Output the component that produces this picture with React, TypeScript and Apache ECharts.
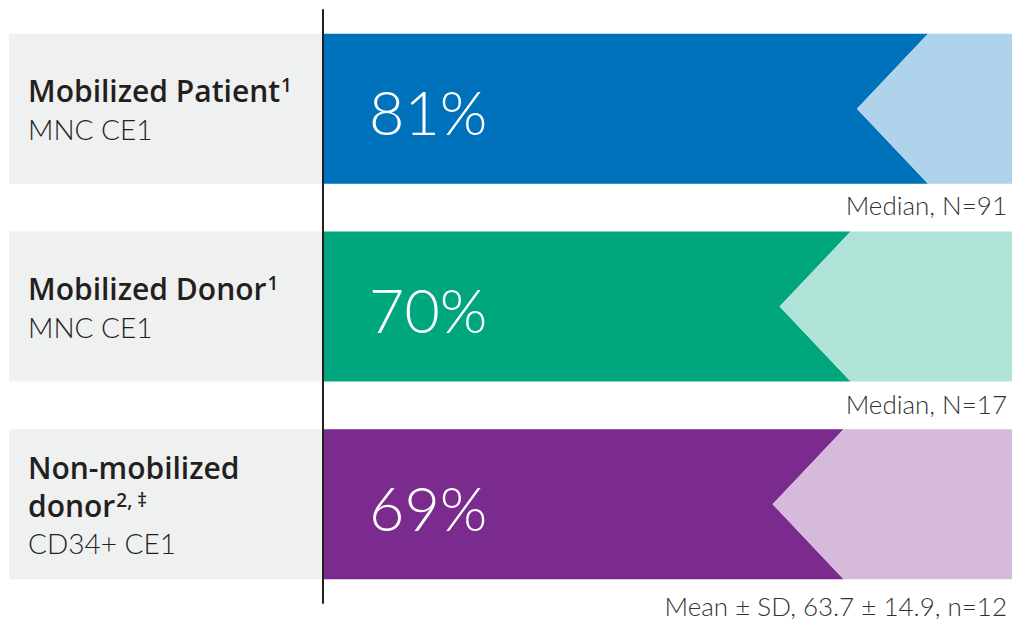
import React, { useEffect, useRef } from "react";
import * as echarts from "echarts";

const categories = ["Mobilized Patient", "Mobilized Donor", "Non-mobilized donor"];
const values = [81, 70, 69];
const titleLines = [["Mobilized Patient"], ["Mobilized Donor"], ["Non-mobilized", "donor"]];
const footnoteMarks = ["1", "1", "2, ‡"];
const subtitles = ["MNC CE1", "MNC CE1", "CD34+ CE1"];
const notes = ["Median, N=91", "Median, N=17", "Mean ± SD, 63.7 ± 14.9, n=12"];
const darkColors = ["#0072bc", "#00a77e", "#7b2a8d"];
const lightColors = ["#afd3ea", "#b0e3d7", "#d5badc"];

const X_MAX = 98;
const FONT = "Lato, 'Open Sans', sans-serif";
const BOLD_FONT = "'Open Sans', Lato, sans-serif";
const noteOffsets = [21, 22, 27];

export default function App() {
  const ref = useRef<HTMLDivElement>(null);
  useEffect(() => {
    if (!ref.current) return;
    const chart = echarts.init(ref.current, undefined, { renderer: "svg" });
    const option: any = {
      animation: false,
      grid: { left: 323, right: 0, top: 10, height: 593 },
      xAxis: { type: "value", min: 0, max: X_MAX, show: false },
      yAxis: {
        type: "category",
        data: categories,
        inverse: true,
        z: 10,
        axisLine: { show: true, lineStyle: { color: "#231f20", width: 2 } },
        axisTick: { show: false },
        axisLabel: { show: false },
        splitLine: { show: false },
      },
      series: [
        {
          type: "custom",
          data: values.map((v, i) => [v, i]),
          renderItem: (params: any, api: any) => {
            const idx = api.value(1);
            const v = api.value(0);
            const [xm, cy] = api.coord([v, idx]);
            const x0 = api.coord([0, idx])[0];
            const xEnd = api.coord([X_MAX, idx])[0];
            const half = 75;
            const notch = 35.5;
            const top = cy - half;
            const bottom = cy + half;
            const i = params.dataIndex;
            const lines = titleLines[i];
            let label = "";
            lines.forEach((ln, k) => {
              label += "{b|" + ln + "}";
              if (k === lines.length - 1) label += "{sup|" + footnoteMarks[i] + "}";
              label += "\n";
            });
            label += "{l|" + subtitles[i] + "}";
            return {
              type: "group",
              children: [
                {
                  type: "rect",
                  shape: { x: 9, y: top, width: x0 - 9, height: 2 * half },
                  style: { fill: "#eff0f0" },
                },
                {
                  type: "polygon",
                  shape: {
                    points: [
                      [x0, top],
                      [xm + notch, top],
                      [xm - notch, cy],
                      [xm + notch, bottom],
                      [x0, bottom],
                    ],
                  },
                  style: { fill: darkColors[i] },
                },
                {
                  type: "polygon",
                  shape: {
                    points: [
                      [xm + notch, top],
                      [xEnd, top],
                      [xEnd, bottom],
                      [xm + notch, bottom],
                      [xm - notch, cy],
                    ],
                  },
                  style: { fill: lightColors[i] },
                },
                {
                  type: "text",
                  x: x0 + 46,
                  y: cy + 3,
                  style: {
                    text: values[i] + "%",
                    fill: "#ffffff",
                    fontFamily: FONT,
                    fontWeight: 300,
                    fontSize: 61,
                    align: "left",
                    verticalAlign: "middle",
                  },
                },
                {
                  type: "text",
                  x: 28,
                  y: cy + 1,
                  style: {
                    text: label,
                    fill: "#231f20",
                    fontFamily: FONT,
                    align: "left",
                    verticalAlign: "middle",
                    rich: {
                      b: { fontFamily: BOLD_FONT, fontSize: 30, fontWeight: 600, lineHeight: 38, fill: "#231f20" },
                      l: { fontFamily: FONT, fontSize: 28, fontWeight: 300, lineHeight: 38, fill: "#231f20" },
                      sup: {
                        fontFamily: BOLD_FONT,
                        fontSize: 19,
                        fontWeight: 600,
                        lineHeight: 19,
                        verticalAlign: "top",
                        padding: [4, 0, 0, 1],
                        fill: "#231f20",
                      },
                    },
                  },
                },
                {
                  type: "text",
                  x: 1007,
                  y: bottom + noteOffsets[i],
                  style: {
                    text: notes[i],
                    fill: "#333333",
                    fontFamily: FONT,
                    fontWeight: 300,
                    fontSize: 26,
                    align: "right",
                    verticalAlign: "middle",
                  },
                },
              ],
            };
          },
        },
      ],
    };
    chart.setOption(option);
    return () => chart.dispose();
  }, []);
  return (
    <div
      ref={ref}
      style={{ position: "absolute", left: 0, top: 0, width: 1012, height: 621 }}
    />
  );
}
